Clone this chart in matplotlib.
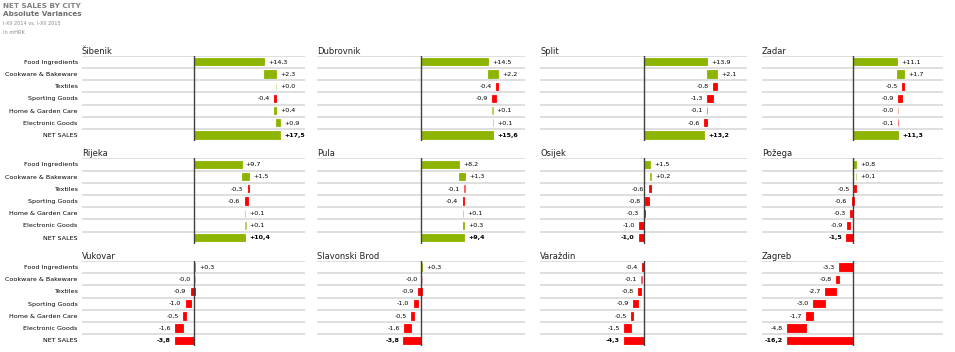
import matplotlib
matplotlib.use("Agg")
import matplotlib.pyplot as plt

plt.rcParams["font.family"] = ["DejaVu Sans"]

W, H, DPI = 955, 352, 100

GREEN = "#8cb400"
RED = "#ff0000"
GRID = "#dcdcdc"
AXIS = "#404040"

CATEGORIES = ["Food Ingredients", "Cookware & Bakeware", "Textiles", "Sporting Goods",
              "Home & Garden Care", "Electronic Goods"]
TOTAL_LABEL = "NET SALES"

CITIES = ["Šibenik", "Dubrovnik", "Split", "Zadar",
          "Rijeka", "Pula", "Osijek", "Požega",
          "Vukovar", "Slavonski Brod", "Varaždin", "Zagreb"]

# category variances, then net sales (mHRK)
SIBENIK = [14.3, 2.3, 0.0, -0.4, 0.4, 0.9, 17.5]
DUBROVNIK = [14.5, 2.2, -0.4, -0.9, 0.1, 0.1, 15.6]
SPLIT = [13.9, 2.1, -0.8, -1.3, -0.1, -0.6, 13.2]
ZADAR = [11.1, 1.7, -0.5, -0.9, -0.0, -0.1, 11.3]
RIJEKA = [9.7, 1.5, -0.3, -0.6, 0.1, 0.1, 10.4]
PULA = [8.2, 1.3, -0.1, -0.4, 0.1, 0.3, 9.4]
OSIJEK = [1.5, 0.2, -0.6, -0.8, -0.3, -1.0, -1.0]
POZEGA = [0.8, 0.1, -0.5, -0.6, -0.3, -0.9, -1.5]
VUKOVAR = [0.3, -0.0, -0.9, -1.0, -0.5, -1.6, -3.8]
SLAVONSKI_BROD = [0.3, -0.0, -0.9, -1.0, -0.5, -1.6, -3.8]
VARAZDIN = [-0.4, -0.1, -0.8, -0.9, -0.5, -1.5, -4.3]
ZAGREB = [-3.3, -0.8, -2.7, -3.0, -1.7, -4.8, -16.2]

CITY_VALUES = [SIBENIK, DUBROVNIK, SPLIT, ZADAR,
               RIJEKA, PULA, OSIJEK, POZEGA,
               VUKOVAR, SLAVONSKI_BROD, VARAZDIN, ZAGREB]

# panel geometry in pixels
COLS = [(82, 305), (317, 525), (540, 747), (762, 943)]
ROW_TOPS = [55.7, 158.3, 261.0]
ROW_H = 85.4
XLIM = 22.5


def fmt(v):
    return f"{v:+.1f}".replace(".", ",")


def is_neg(v):
    return str(v).startswith("-")


def alpha_for(v):
    return min(1.0, 0.35 + abs(v) * 2.2)


def draw_panel(ax, name, values, show_labels):
    n = len(values)
    ax.set_xlim(-XLIM, XLIM)
    ax.set_ylim(n, 0)
    for s in ax.spines.values():
        s.set_visible(False)
    ax.set_xticks([])
    for i in range(n):
        ax.axhline(i, color=GRID, lw=1.3, zorder=0)

    run = 0.0
    for i, v in enumerate(values):
        total = i == n - 1
        start = 0.0 if total else run
        end = v if total else run + v
        if not total:
            run = end
        neg = is_neg(v)
        color = RED if neg else GREEN
        ax.barh(i + 0.5, end - start, left=start, height=0.6, color=color,
                edgecolor=color, alpha=alpha_for(v), lw=0.6, zorder=2)
        if neg:
            x, dx, ha = min(start, end), -3, "right"
        else:
            x, dx, ha = max(start, end), 3, "left"
        ax.annotate(fmt(v), (x, i + 0.5), xytext=(dx, 0), textcoords="offset points",
                    ha=ha, va="center", fontsize=4.6, color="#000000",
                    fontweight="bold" if total else "normal", zorder=3)

    ax.axvline(0, color=AXIS, lw=1.0, zorder=4)
    ax.text(0, 1, name, transform=ax.transAxes, ha="left", va="bottom",
            fontsize=6, color="#222222")

    if show_labels:
        ax.set_yticks([i + 0.5 for i in range(n)])
        ax.set_yticklabels(CATEGORIES + [TOTAL_LABEL], fontsize=4.6, color="#000000")
        ax.tick_params(axis="y", length=0, pad=3)
    else:
        ax.set_yticks([])


fig = plt.figure(figsize=(W / DPI, H / DPI), dpi=DPI)
fig.patch.set_facecolor("white")

for k, (name, values) in enumerate(zip(CITIES, CITY_VALUES)):
    r, c = divmod(k, 4)
    x0, x1 = COLS[c]
    top = ROW_TOPS[r]
    ax = fig.add_axes([x0 / W, 1 - (top + ROW_H) / H, (x1 - x0) / W, ROW_H / H])
    draw_panel(ax, name, values, c == 0)

fig.text(3 / W, 1 - 6 / H, "NET SALES BY CITY", ha="left", va="center",
         fontsize=5.2, fontweight="bold", color="#808080")
fig.text(3 / W, 1 - 14.5 / H, "Absolute Variances", ha="left", va="center",
         fontsize=5.2, fontweight="bold", color="#6f6f6f")
fig.text(3 / W, 1 - 23.5 / H, "I-XII 2014 vs. I-XII 2015", ha="left", va="center",
         fontsize=3.6, color="#8a8a8a")
fig.text(3 / W, 1 - 32 / H, "in mHRK", ha="left", va="center",
         fontsize=3.6, color="#8a8a8a")

fig.savefig("out.png", dpi=DPI)
